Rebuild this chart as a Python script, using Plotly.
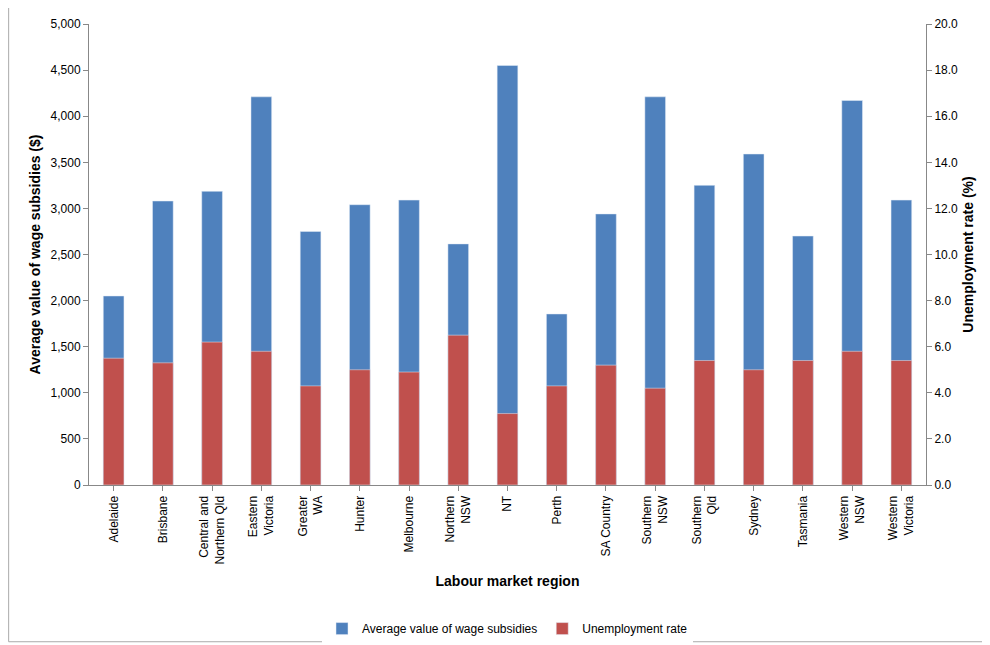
import plotly.graph_objects as go

regions = ["Adelaide", "Brisbane", "Central and<br>Northern Qld", "Eastern<br>Victoria", "Greater<br>WA",
           "Hunter", "Melbourne", "Northern<br>NSW", "NT", "Perth", "SA Country", "Southern<br>NSW",
           "Southern<br>Qld", "Sydney", "Tasmania", "Western<br>NSW", "Western<br>Victoria"]
subsidy = [2050, 3080, 3185, 4210, 2750, 3040, 3090, 2615, 4550, 1855, 2940, 4210, 3250, 3590, 2700, 4170, 3090]
unemployment = [5.5, 5.3, 6.2, 5.8, 4.3, 5.0, 4.9, 6.5, 3.1, 4.3, 5.2, 4.2, 5.4, 5.0, 5.4, 5.8, 5.4]

fig = go.Figure()
fig.add_trace(go.Bar(x=regions, y=subsidy, name="Average value of wage subsidies",
                     marker_color="#4f81bd", width=0.42))
fig.add_trace(go.Bar(x=regions, y=unemployment, name="Unemployment rate",
                     marker_color="#c0504d", width=0.42, yaxis="y2"))

font = dict(family="Liberation Sans, Arial", size=12, color="#000")
fig.update_layout(
    width=990, height=645, barmode="overlay",
    paper_bgcolor="white", plot_bgcolor="white", font=font,
    margin=dict(l=81, r=72, t=16, b=168, autoexpand=False),
    xaxis=dict(tickangle=-90, showline=True, linecolor="#888", ticks="outside", tickcolor="#888",
               title=dict(text="<b>Labour market region</b>", standoff=12)),
    yaxis=dict(range=[0, 5000], dtick=500, tickformat=",", showgrid=False, showline=True,
               linecolor="#888", ticks="outside", tickcolor="#888",
               title=dict(text="<b>Average value of wage subsidies ($)</b>", standoff=6)),
    yaxis2=dict(range=[0, 20], dtick=2, tickformat=".1f", overlaying="y", side="right",
                showgrid=False, showline=True, linecolor="#888", ticks="outside", tickcolor="#888",
                title=dict(text="<b>Unemployment rate (%)</b>", standoff=6)),
    legend=dict(orientation="h", x=0.5, xanchor="center", y=-0.28, yanchor="top"),
    shapes=[dict(type="rect", xref="paper", yref="paper", x0=-0.096, x1=1.076, y0=-0.34, y1=1.04,
                 line=dict(color="#aaa", width=1))],
)
fig.write_html("out.html")
